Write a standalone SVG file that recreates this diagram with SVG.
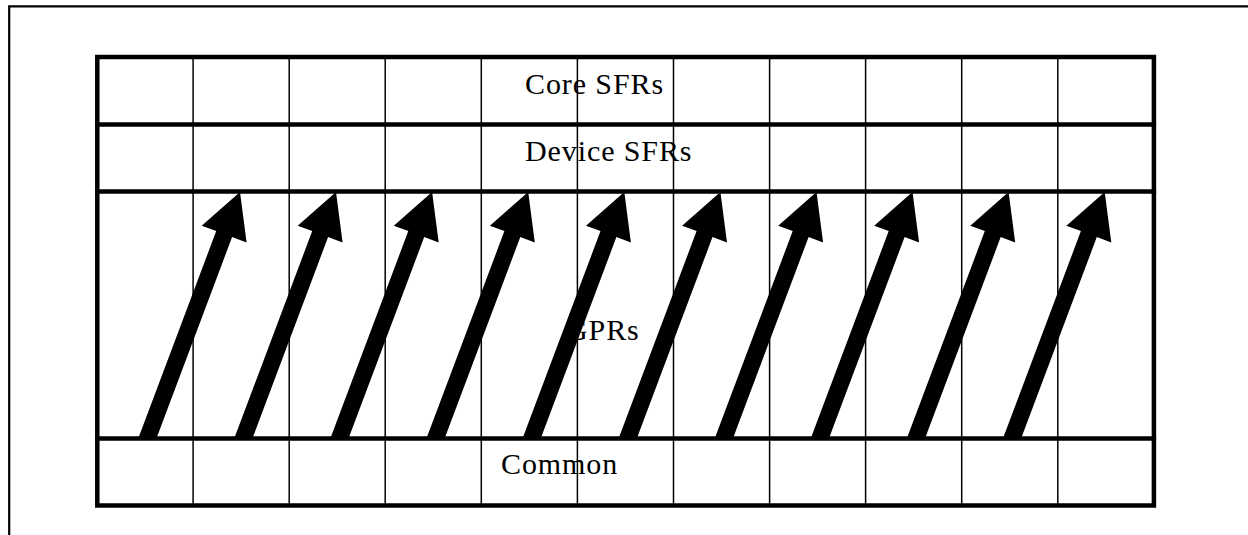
<svg xmlns="http://www.w3.org/2000/svg" xmlns:xlink="http://www.w3.org/1999/xlink" width="1248" height="535" viewBox="0 0 1248 535">
  <style>
    .lbl { font-family: "Liberation Serif", "Times New Roman", serif; font-size: 30px; letter-spacing: 0.9px; fill: #000; }
    .thin { stroke: #000; stroke-width: 1.5; fill: none; }
    .thick { stroke: #000; stroke-width: 4.5; fill: none; stroke-linecap: square; }
    .frame { stroke: #000; stroke-width: 2.2; fill: none; }
    .arrow { fill: #000; stroke: none; }
  </style>
  <defs>
    <polygon id="arr" class="arrow" points="240,192 246.6,242.6 232.1,237.1 156.6,438 138.4,438 216.2,231.1 201.7,225.7"/>
  </defs>
  <rect x="0" y="0" width="1248" height="535" fill="#fff"/>
  <g id="page-frame">
    <path class="frame" d="M9.2,535 V6.3 H1248"/>
  </g>
  <g id="row-core-sfrs">
    <text class="lbl" x="525" y="93.5">Core SFRs</text>
  </g>
  <g id="row-device-sfrs">
    <text class="lbl" x="525" y="160.8">Device SFRs</text>
  </g>
  <g id="row-gprs">
    <text class="lbl" x="566" y="340">GPRs</text>
  </g>
  <g id="row-common">
    <text class="lbl" x="501" y="474">Common</text>
  </g>
  <g id="grid">
    <g class="thin">
      <line x1="193.1" y1="57" x2="193.1" y2="505.5"/>
      <line x1="289.2" y1="57" x2="289.2" y2="505.5"/>
      <line x1="385.2" y1="57" x2="385.2" y2="505.5"/>
      <line x1="481.3" y1="57" x2="481.3" y2="505.5"/>
      <line x1="577.4" y1="57" x2="577.4" y2="505.5"/>
      <line x1="673.5" y1="57" x2="673.5" y2="505.5"/>
      <line x1="769.6" y1="57" x2="769.6" y2="505.5"/>
      <line x1="865.6" y1="57" x2="865.6" y2="505.5"/>
      <line x1="961.7" y1="57" x2="961.7" y2="505.5"/>
      <line x1="1057.8" y1="57" x2="1057.8" y2="505.5"/>
    </g>
    <g class="thick">
      <rect x="97.3" y="57" width="1056.6" height="448.5"/>
      <line x1="97.3" y1="124.5" x2="1153.9" y2="124.5"/>
      <line x1="97.3" y1="191.5" x2="1153.9" y2="191.5"/>
      <line x1="97.3" y1="438.5" x2="1153.9" y2="438.5"/>
    </g>
  </g>
  <g id="connectors">
    <use xlink:href="#arr" href="#arr"/>
    <use xlink:href="#arr" href="#arr" x="96"/>
    <use xlink:href="#arr" href="#arr" x="192.1"/>
    <use xlink:href="#arr" href="#arr" x="288.2"/>
    <use xlink:href="#arr" href="#arr" x="384.3"/>
    <use xlink:href="#arr" href="#arr" x="480.4"/>
    <use xlink:href="#arr" href="#arr" x="576.5"/>
    <use xlink:href="#arr" href="#arr" x="672.5"/>
    <use xlink:href="#arr" href="#arr" x="768.6"/>
    <use xlink:href="#arr" href="#arr" x="864.7"/>
  </g>
</svg>
